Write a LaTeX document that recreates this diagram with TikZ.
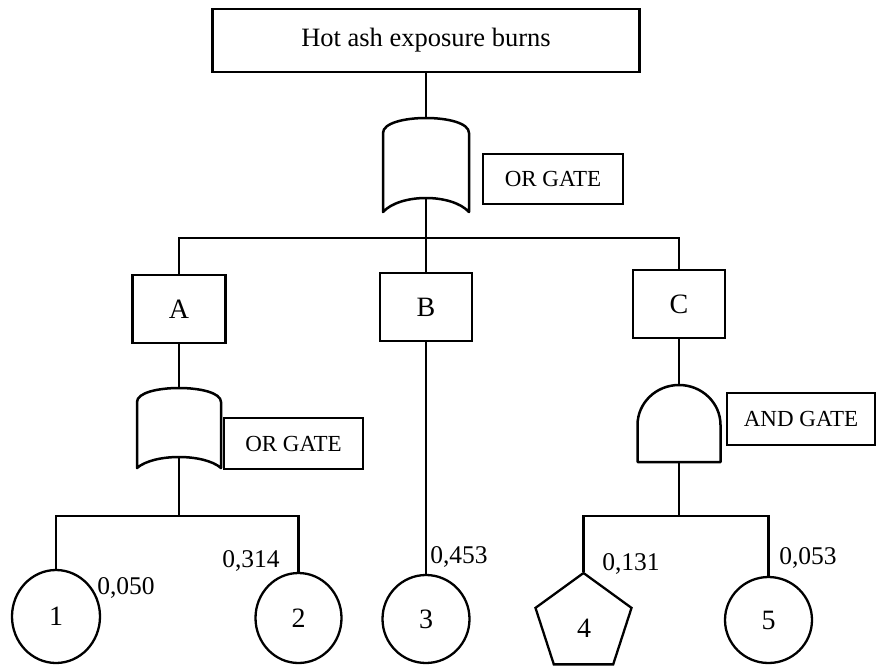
\documentclass[tikz,border=0pt]{standalone}
\usepackage{fontspec}
\setmainfont{Liberation Serif}
\usetikzlibrary{shapes.geometric,calc}
\tikzset{
  conn/.style={line width=2.3pt},
  boxstyle/.style={draw, line width=2.5pt, fill=white, inner sep=0pt},
  labbox/.style={draw, line width=1.2pt, fill=white, inner sep=0pt, font=\fontsize{23}{27}\selectfont},
  gateline/.style={line width=2.5pt, fill=white, line join=round},
  gatenode/.style={inner sep=0pt, outer sep=0pt},
  evt/.style={draw, ellipse, line width=2.3pt, fill=white, inner sep=0pt, font=\fontsize{28}{32}\selectfont},
  val/.style={inner sep=0pt, font=\fontsize{25.5}{30}\selectfont},
  pics/orshape/.style n args={4}{code={
    \draw[gateline] (-#1,-#2+#3) -- (-#1,#2)
      .. controls (-#1*0.6,#2-#4*4/3) and (#1*0.6,#2-#4*4/3) .. (#1,#2)
      -- (#1,-#2+#3)
      .. controls (#1,-#2-#3/3) and (-#1,-#2-#3/3) .. (-#1,-#2+#3) -- cycle;
  }},
  pics/andshape/.style n args={3}{code={
    \draw[gateline] (-#1,#2) -- (-#1,-#2+#3)
      .. controls (-#1,-#2+#3-0.5523*#3) and (-0.5523*#1,-#2) .. (0,-#2)
      .. controls (0.5523*#1,-#2) and (#1,-#2+#3-0.5523*#3) .. (#1,-#2+#3)
      -- (#1,#2) -- cycle;
  }}
}
\begin{document}
\begin{tikzpicture}[x=1pt,y=-1pt]
\useasboundingbox[fill=white] (0,0) rectangle (877,666);

% top event
\node[boxstyle, minimum width=427pt, minimum height=63pt, font=\fontsize{26.5}{31}\selectfont] (top) at (426,40.5) {Hot ash exposure burns};

% gates (invisible anchors)
\node[gatenode, minimum width=86pt, minimum height=94pt] (g1) at (426,165) {};
\node[gatenode, minimum width=84pt, minimum height=80pt] (g2) at (179,428) {};
\node[gatenode, minimum width=83pt, minimum height=77pt] (g3) at (679,423.5) {};

% gate labels
\node[labbox, minimum width=140pt, minimum height=50pt] (l1) at (553,179) {OR GATE};
\node[labbox, minimum width=139pt, minimum height=51pt] (l2) at (293.5,443.5) {OR GATE};
\node[labbox, minimum width=148pt, minimum height=52pt] (l3) at (801,419) {AND GATE};

% intermediate events
\node[boxstyle, minimum width=93pt, minimum height=68pt, font=\fontsize{28}{32}\selectfont] (A) at (179,309) {A};
\node[boxstyle, minimum width=92pt, minimum height=68pt, font=\fontsize{28}{32}\selectfont] (B) at (426,307) {B};
\node[boxstyle, minimum width=92pt, minimum height=68pt, font=\fontsize{28}{32}\selectfont] (C) at (679,304) {C};

% basic events
\node[evt, minimum width=88pt, minimum height=93pt] (e1) at (56,616.5) {1};
\node[evt, minimum width=86pt, minimum height=90pt] (e2) at (298.5,618) {2};
\node[evt, minimum width=87pt, minimum height=88pt] (e3) at (426,619) {3};
\node[draw, regular polygon, regular polygon sides=5, minimum size=101pt, inner sep=0pt, line width=2.3pt, fill=white] (e4) at (583.5,623.5) {};
\node[font=\fontsize{28}{32}\selectfont, inner sep=0pt] (t4) at (584,628) {4};
\node[evt, minimum width=87pt, minimum height=86pt] (e5) at (768.5,620) {5};

% junction coordinates
\coordinate (j1) at (426,238);
\coordinate (j2) at (179,516);
\coordinate (j3) at (679,516);

% connectors
\draw[conn] (top.south) -- (g1.north);
\draw[conn] (g1.center) -- (j1);
\draw[conn] (A.north) |- (j1) -| (C.north);
\draw[conn] (j1) -- (B.north);
\draw[conn] (A.south) -- (g2.north);
\draw[conn] (g2.center) -- (j2);
\draw[conn] (e1.north) |- (j2) -| (e2.north);
\draw[conn] (B.south) -- (e3.north);
\draw[conn] (C.south) -- (g3.north);
\draw[conn] (g3.center) -- (j3);
\draw[conn] (e4.corner 1) |- (j3) -| (e5.north);

% gate shapes
\pic at (g1.center) {orshape={43}{47}{15}{14}};
\pic at (g2.center) {orshape={42}{40}{14}{11}};
\pic at (g3.center) {andshape={41.5}{38.5}{40}};

% probabilities
\node[val] (v1) at (126,588) {0,050};
\node[val] (v2) at (251,561) {0,314};
\node[val] (v3) at (459,557) {0,453};
\node[val] (v4) at (631,564) {0,131};
\node[val] (v5) at (808,558) {0,053};
\end{tikzpicture}
\end{document}
